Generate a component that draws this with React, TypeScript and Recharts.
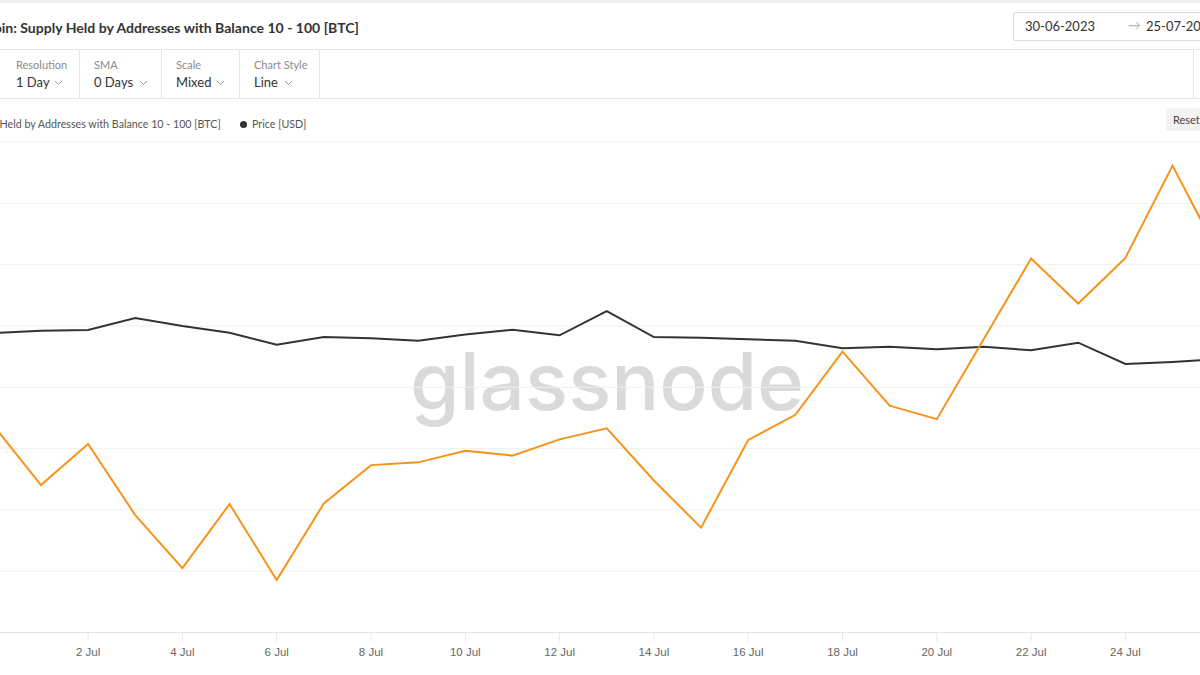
import React from "react";
import { LineChart, Line, XAxis, YAxis, CartesianGrid, Legend } from "recharts";

const dates = [
  "30 Jun", "1 Jul", "2 Jul", "3 Jul", "4 Jul", "5 Jul", "6 Jul", "7 Jul", "8 Jul",
  "9 Jul", "10 Jul", "11 Jul", "12 Jul", "13 Jul", "14 Jul", "15 Jul", "16 Jul",
  "17 Jul", "18 Jul", "19 Jul", "20 Jul", "21 Jul", "22 Jul", "23 Jul", "24 Jul",
  "25 Jul", "26 Jul",
];

const tickDates = ["2 Jul", "4 Jul", "6 Jul", "8 Jul", "10 Jul", "12 Jul", "14 Jul", "16 Jul", "18 Jul", "20 Jul", "22 Jul", "24 Jul", "26 Jul"];

// BTC held by addresses with balance 10 - 100
const supply = [
  4542740, 4540810, 4542150, 4539830, 4538100, 4540190, 4537710, 4540210, 4541460,
  4541550, 4541930, 4541770, 4542300, 4542660, 4540960, 4539420, 4542280,
  4543100, 4545160, 4543400, 4542960, 4545580, 4548200, 4546730, 4548220,
  4551230, 4548280,
];

// BTC price, USD
const price = [
  30522, 30621, 30651, 31165, 30822, 30535, 30022, 30351, 30296,
  30193, 30458, 30664, 30424, 31464, 30351, 30321, 30253,
  30193, 29868, 29936, 29825, 29936, 29782, 30107, 29195,
  29281, 29409,
];

const supplyTicks = [4536000, 4538000, 4540000, 4542000, 4544000, 4546000, 4548000, 4550000, 4552000];
const priceDomain = [17700, 38700];

const SUPPLY_NAME = "Bitcoin: Supply Held by Addresses with Balance 10 - 100 [BTC]";
const PRICE_NAME = "Price [USD]";

const data = dates.map((d, i) => ({ date: d, supply: supply[i], price: price[i] }));

const FONT = "Lato, 'Liberation Sans', Arial, sans-serif";
const ORANGE = "#f7931a";
const DARK = "#333333";

const Chevron = ({ x }: { x: number }) => (
  <svg width="9" height="6" style={{ position: "absolute", left: x, top: 80 }}>
    <polyline points="1,1 4.5,4.5 8,1" fill="none" stroke="#9a9a9a" strokeWidth="1" />
  </svg>
);

const Field = ({ x, label, value, chev }: { x: number; label: string; value: string; chev: number }) => (
  <>
    <div style={{ position: "absolute", left: x, top: 58, fontSize: 11, color: "#8a8a8a", lineHeight: "14px" }}>{label}</div>
    <div style={{ position: "absolute", left: x, top: 74, fontSize: 13, color: "#333", lineHeight: "16px" }}>{value}</div>
    <Chevron x={chev} />
  </>
);

const LegendContent = () => (
  <div style={{ position: "relative", width: 1260, height: 30, fontFamily: FONT, fontSize: 10.7, color: "#555" }}>
    <div style={{ position: "absolute", right: 1019.3, top: 0, whiteSpace: "nowrap", lineHeight: "14px" }}>
      <span style={{ display: "inline-block", width: 7, height: 7, borderRadius: 4, background: ORANGE, marginRight: 5 }} />
      {SUPPLY_NAME}
    </div>
    <div style={{ position: "absolute", left: 260, top: 0, whiteSpace: "nowrap", lineHeight: "14px" }}>
      <span style={{ display: "inline-block", width: 7, height: 7, borderRadius: 4, background: DARK, marginRight: 5 }} />
      {PRICE_NAME}
    </div>
  </div>
);

const vLine = (x: number) => (
  <div key={x} style={{ position: "absolute", left: x, top: 50, width: 1, height: 48, background: "#e6e6e6" }} />
);

export default function App() {
  return (
    <div
      style={{
        position: "absolute",
        top: 0,
        left: 0,
        width: 1200,
        height: 675,
        overflow: "hidden",
        background: "#fff",
        fontFamily: FONT,
      }}
    >
      <div style={{ position: "absolute", top: 0, left: 0, width: 1200, height: 3, background: "#eef0f3" }} />
      <div
        style={{
          position: "absolute",
          right: 841,
          top: 18,
          fontSize: 14.05,
          fontWeight: 700,
          color: "#333",
          whiteSpace: "nowrap",
          lineHeight: "20px",
        }}
      >
        {SUPPLY_NAME}
      </div>

      <div
        style={{
          position: "absolute",
          left: 1013,
          top: 12,
          width: 250,
          height: 27,
          border: "1px solid #dcdcdc",
          borderRadius: 2,
          fontSize: 13,
          color: "#333",
        }}
      >
        <span style={{ position: "absolute", left: 11, top: 5 }}>30-06-2023</span>
        <span style={{ position: "absolute", left: 114, top: 4, color: "#bbb" }}>→</span>
        <span style={{ position: "absolute", left: 132, top: 5 }}>25-07-2023</span>
      </div>

      <div style={{ position: "absolute", top: 49, left: 0, width: 1200, height: 1, background: "#e6e6e6" }} />
      <div style={{ position: "absolute", top: 98, left: 0, width: 1200, height: 1, background: "#e6e6e6" }} />
      {[79, 161, 239, 319, 1193].map(vLine)}
      <Field x={16} label="Resolution" value="1 Day" chev={54} />
      <Field x={94} label="SMA" value="0 Days" chev={139} />
      <Field x={176} label="Scale" value="Mixed" chev={216} />
      <Field x={254} label="Chart Style" value="Line" chev={284} />

      <div
        style={{
          position: "absolute",
          left: 1166,
          top: 108,
          width: 60,
          height: 23,
          background: "#f3f3f3",
          borderRadius: 3,
          fontSize: 11,
          color: "#444",
          lineHeight: "23px",
          paddingLeft: 7,
        }}
      >
        Reset
      </div>

      <div
        style={{
          position: "absolute",
          left: 0,
          top: 341,
          width: 1214,
          textAlign: "center",
          fontFamily: "Inter, sans-serif",
          fontWeight: 500,
          fontSize: 80,
          lineHeight: "80px",
          color: "#dadada",
        }}
      >
        glassnode
      </div>

      <div style={{ position: "absolute", left: -20, top: 100 }}>
        <LineChart width={1260} height={575} data={data} margin={{ top: 42, right: 20.3, bottom: 2, left: 13.8 }}>
          <CartesianGrid vertical={false} stroke="#f0f0f0" yAxisId="supply" />
          <XAxis
            dataKey="date"
            ticks={tickDates}
            interval={0}
            height={40.5}
            tickSize={9}
            tickMargin={6}
            axisLine={{ stroke: "#e3e3e3" }}
            tickLine={{ stroke: "#e8e8e8" }}
            tick={{ fill: "#666", fontSize: 11.5, fontFamily: "'Liberation Sans', Arial, sans-serif" }}
          />
          <YAxis yAxisId="supply" hide domain={[supplyTicks[0], supplyTicks[supplyTicks.length - 1]]} ticks={supplyTicks} />
          <YAxis yAxisId="price" hide domain={priceDomain} />
          <Legend
            layout="horizontal"
            verticalAlign="middle"
            align="center"
            content={<LegendContent />}
            wrapperStyle={{ top: 17, left: 0, width: 1260 }}
          />
          <Line
            yAxisId="price"
            type="linear"
            dataKey="price"
            name={PRICE_NAME}
            stroke={DARK}
            strokeWidth={2}
            dot={false}
            isAnimationActive={false}
          />
          <Line
            yAxisId="supply"
            type="linear"
            dataKey="supply"
            name={SUPPLY_NAME}
            stroke={ORANGE}
            strokeWidth={2}
            dot={false}
            isAnimationActive={false}
          />
        </LineChart>
      </div>
    </div>
  );
}
